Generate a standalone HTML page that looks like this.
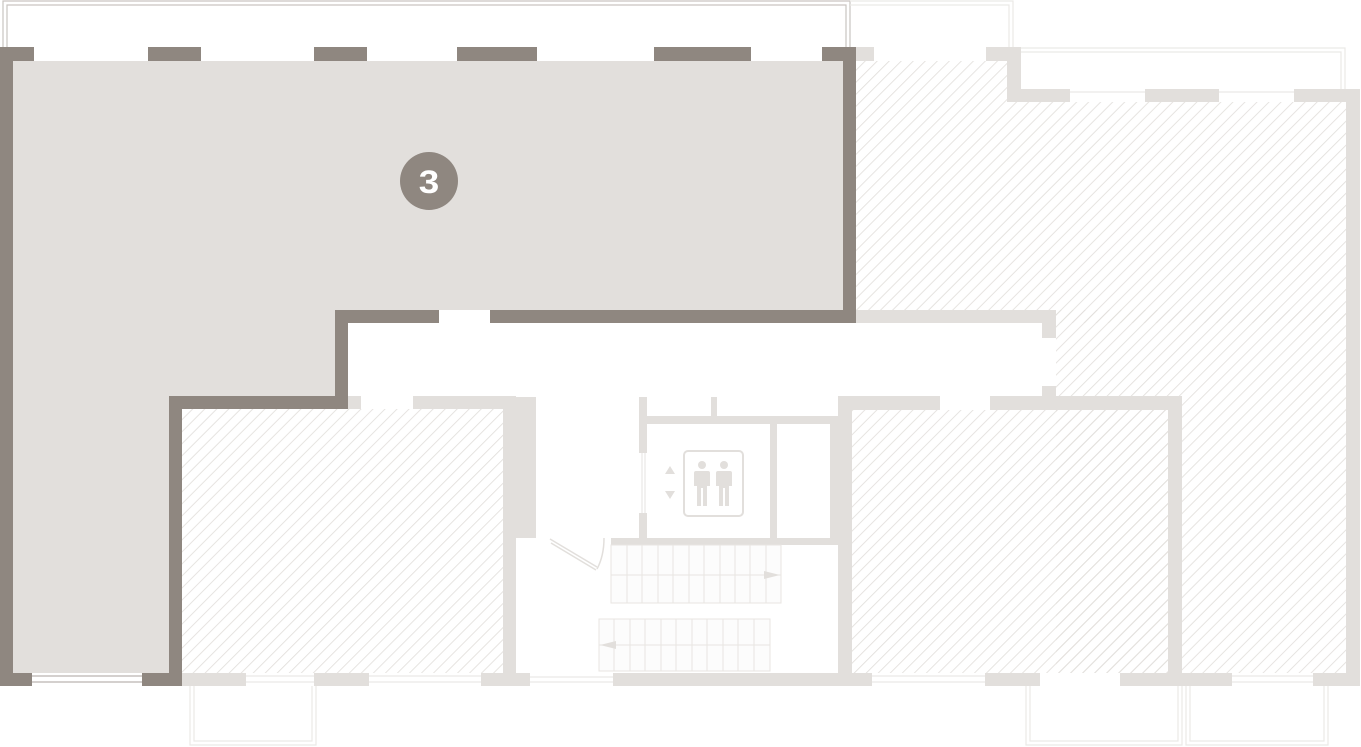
<!DOCTYPE html>
<html><head><meta charset="utf-8"><style>html,body{margin:0;padding:0;background:#fff;}svg{display:block}</style></head>
<body>
<svg width="1361" height="747" viewBox="0 0 1361 747" xmlns="http://www.w3.org/2000/svg">
<defs>
<pattern id="h" patternUnits="userSpaceOnUse" width="8.5" height="8.5" patternTransform="rotate(45)">
<line x1="0" y1="0" x2="0" y2="8.5" stroke="#e2dfdc" stroke-width="1.7"/>
</pattern>
</defs>
<g fill="none" stroke="#c9c4c0" stroke-width="1.2">
<path d="M3,47 V1 H850 V47"/><path d="M7,47 V5 H846 V47"/>
</g>
<g fill="none" stroke="#ebe9e7" stroke-width="1.2">
<path d="M850,1 H1013 V47"/><path d="M850,5 H1009 V47"/>
<path d="M1013,48 H1345 V89"/><path d="M1021,52 H1341 V89"/>
<path d="M190,686 V745 H316 V686"/><path d="M194,686 V741 H312 V686"/>
<path d="M1026,686 V745 H1182 V686"/><path d="M1030,686 V741 H1178 V686"/>
<path d="M1186,686 V745 H1328 V686"/><path d="M1190,686 V741 H1324 V686"/>
</g>
<rect x="856" y="61" width="151" height="249" fill="url(#h)"/>
<rect x="1007" y="102" width="339" height="221" fill="url(#h)"/>
<rect x="1056" y="310" width="290" height="363" fill="url(#h)"/>
<rect x="182" y="409" width="321" height="264" fill="url(#h)"/>
<rect x="852" y="410" width="316" height="263" fill="url(#h)"/>
<path d="M13,61 H843 V310 H348 V396 H182 V673 H13 Z" fill="#e2dfdc"/>
<g fill="#e2dfdc">
<rect x="856" y="47" width="18" height="14"/>
<rect x="986" y="47" width="35" height="14"/>
<rect x="1007" y="47" width="14" height="55"/>
<rect x="1007" y="89" width="63" height="13"/>
<rect x="1145" y="89" width="74" height="13"/>
<rect x="1294" y="89" width="66" height="13"/>
<rect x="1346" y="89" width="14" height="597"/>
<rect x="856" y="310" width="200" height="13"/>
<rect x="1042" y="310" width="14" height="28"/>
<rect x="1042" y="386" width="14" height="11"/>
<rect x="348" y="396" width="13" height="13"/>
<rect x="413" y="396" width="103" height="13"/>
<rect x="503" y="396" width="13" height="290"/>
<rect x="516" y="397" width="20" height="141"/>
<rect x="182" y="673" width="64" height="13"/>
<rect x="314" y="673" width="55" height="13"/>
<rect x="481" y="673" width="22" height="13"/>
<rect x="503" y="673" width="27" height="13"/>
<rect x="613" y="673" width="225" height="13"/>
<rect x="838" y="396" width="102" height="14"/>
<rect x="990" y="396" width="192" height="14"/>
<rect x="838" y="396" width="14" height="290"/>
<rect x="830" y="417" width="8" height="128"/>
<rect x="1168" y="396" width="14" height="290"/>
<rect x="830" y="673" width="42" height="13"/>
<rect x="985" y="673" width="55" height="13"/>
<rect x="1120" y="673" width="112" height="13"/>
<rect x="1313" y="673" width="47" height="13"/>
<rect x="639" y="397" width="8" height="56"/>
<rect x="639" y="513" width="8" height="32"/>
<rect x="647" y="416" width="191" height="8"/>
<rect x="711" y="397" width="6" height="19"/>
<rect x="770" y="424" width="7" height="114"/>
<rect x="611" y="538" width="227" height="7"/>
</g>
<g stroke="#e6e3e0" stroke-width="1" fill="none">
<path d="M246,676 H314 M246,682 H314 M369,676 H481 M369,682 H481"/>
<path d="M530,677 H613 M530,682 H613"/>
<path d="M872,676 H985 M872,682 H985 M1232,676 H1313 M1232,682 H1313"/>
<path d="M642,453 V513 M645,453 V513"/>
<path d="M1070,92 H1145 M1219,92 H1294"/>
</g>
<g fill="#8f8780">
<rect x="0" y="47" width="13" height="639"/>
<rect x="0" y="47" width="34" height="14"/>
<rect x="148" y="47" width="53" height="14"/>
<rect x="314" y="47" width="53" height="14"/>
<rect x="457" y="47" width="80" height="14"/>
<rect x="654" y="47" width="97" height="14"/>
<rect x="822" y="47" width="34" height="14"/>
<rect x="843" y="47" width="13" height="276"/>
<rect x="490" y="310" width="366" height="13"/>
<rect x="335" y="310" width="104" height="13"/>
<rect x="335" y="310" width="13" height="99"/>
<rect x="169" y="396" width="179" height="13"/>
<rect x="169" y="396" width="13" height="290"/>
<rect x="0" y="673" width="32" height="13"/>
<rect x="142" y="673" width="40" height="13"/>
</g>
<g stroke="#a9a29c" stroke-width="1" fill="none">
<path d="M32,676 H142 M32,682 H142"/>
</g>
<g stroke="#e2dfdc" stroke-width="1.5" fill="none">
<path d="M550,539 L597,567 M551,543 L596,570"/>
<path d="M597,569 Q604,556 604,538"/>
</g>
<g stroke="#e8e5e2" stroke-width="1" fill="#fcfcfc">
<rect x="611" y="545" width="170" height="58"/>
<rect x="599" y="619" width="171" height="52"/>
</g>
<g stroke="#e8e5e2" stroke-width="1">
<path d="M611,575 H781 M599,645 H770"/>
<path d="M627,545V603 M642,545V603 M658,545V603 M673,545V603 M689,545V603 M704,545V603 M720,545V603 M735,545V603 M750,545V603 M766,545V603"/>
<path d="M614,619V671 M630,619V671 M645,619V671 M661,619V671 M676,619V671 M692,619V671 M707,619V671 M723,619V671 M738,619V671 M754,619V671"/>
</g>
<polygon points="764,571 780,575 764,579" fill="#e2dfdc"/>
<polygon points="616,641 600,645 616,649" fill="#e2dfdc"/>
<rect x="684" y="451" width="59" height="65" rx="4" fill="none" stroke="#e2dfdc" stroke-width="2"/>
<g fill="#e2dfdc">
<circle cx="702" cy="465" r="4"/><circle cx="724" cy="465" r="4"/>
<path d="M696,471 H708 Q710,471 710,473 V486 H707 V506 H703 V488 H701 V506 H697 V486 H694 V473 Q694,471 696,471Z"/>
<path d="M718,471 H730 Q732,471 732,473 V486 H729 V506 H725 V488 H723 V506 H719 V486 H716 V473 Q716,471 718,471Z"/>
<polygon points="670,466 675,474 665,474"/>
<polygon points="665,491 675,491 670,499"/>
</g>
<circle cx="429" cy="181" r="29" fill="#8f8780"/>
<text x="429" y="193" text-anchor="middle" font-family="Liberation Sans, sans-serif" font-weight="bold" font-size="32" fill="#fff" transform="translate(429 0) scale(1.15 1) translate(-429 0)">3</text>
</svg>
</body></html>
